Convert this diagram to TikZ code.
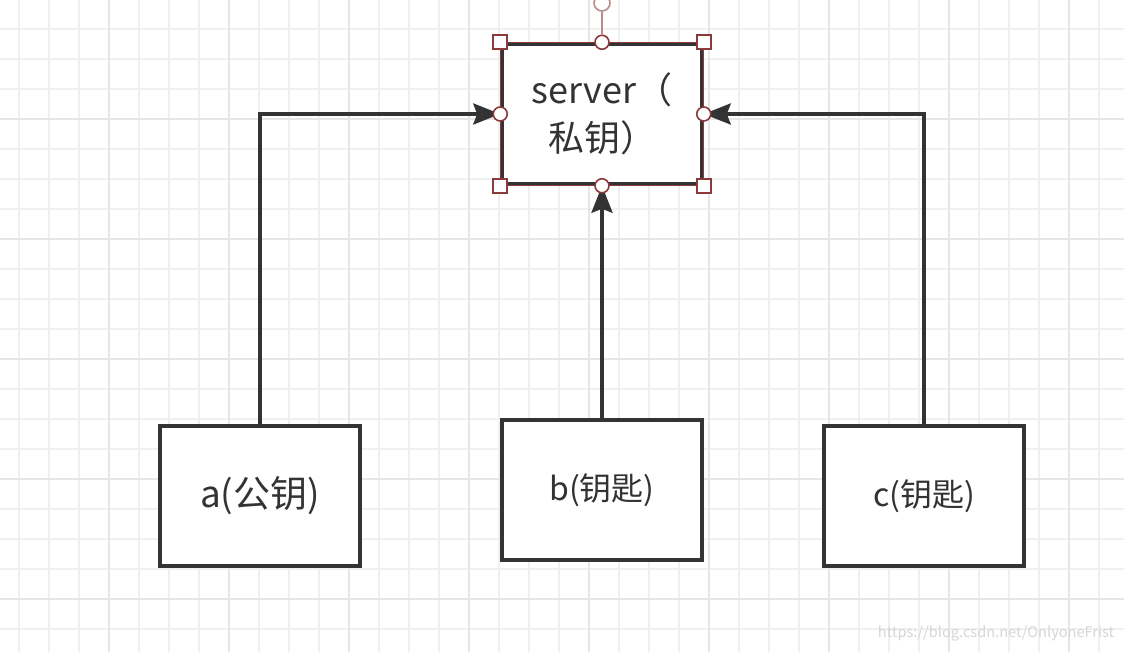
\documentclass[tikz,border=0pt]{standalone}
\usepackage{fontspec}
\setmainfont{Noto Sans CJK SC}
\usetikzlibrary{arrows.meta}
\definecolor{boxc}{HTML}{333333}
\definecolor{hred}{HTML}{8A3A3A}
\definecolor{hlight}{HTML}{B88A8A}
\definecolor{gminor}{HTML}{F0F0F0}
\definecolor{gmajor}{HTML}{E6E6E6}
\definecolor{wmc}{HTML}{D6D6D6}
\tikzset{
  gridminor/.style={draw=gminor, line width=2pt},
  gridmajor/.style={draw=gmajor, line width=2pt},
  box/.style={draw=boxc, line width=3.5pt, fill=white, minimum width=200pt, minimum height=140pt, inner sep=0pt, text=boxc},
  conn/.style={draw=boxc, line width=3.5pt, -{Stealth[length=27pt,width=21pt,inset=4pt]}},
  hsq/.style={rectangle, draw=hred, fill=white, line width=1.6pt, minimum size=14pt, inner sep=0pt},
  hcirc/.style={circle, draw=hred, fill=white, line width=1.6pt, minimum size=14pt, inner sep=0pt},
}
\begin{document}
\begin{tikzpicture}[x=1pt,y=-1pt]
\useasboundingbox (0,0) rectangle (1124,652);
\fill[white] (0,0) rectangle (1124,652);
\foreach \x in {19,49,...,1124} \draw[gridminor] (\x,0) -- (\x,652);
\foreach \y in {29,59,...,652} \draw[gridminor] (0,\y) -- (1124,\y);
\foreach \x in {109,229,...,1124} \draw[gridmajor] (\x,0) -- (\x,652);
\foreach \y in {119,239,...,652} \draw[gridmajor] (0,\y) -- (1124,\y);

\node[box, align=center, font=\fontsize{36}{48}\selectfont] (srv) at (602,114) {server（\\私钥）};
\node[box, font=\fontsize{37}{40}\selectfont] (a) at (260,496) {a(公钥)};
\node[box, font=\fontsize{32}{36}\selectfont] (b) at (602,490) {b(钥匙)};
\node[box, font=\fontsize{32}{36}\selectfont] (c) at (924,496) {c(钥匙)};

\draw[conn] (a.north) |- (srv.west);
\draw[conn] (b.north) -- (srv.south);
\draw[conn] (c.north) |- (srv.east);

\draw[draw=hred, line width=0.8pt] (srv.north west) rectangle (srv.south east);
\node[hsq] (h1) at (srv.north west) {};
\node[hsq] (h2) at (srv.north east) {};
\node[hsq] (h3) at (srv.south west) {};
\node[hsq] (h4) at (srv.south east) {};
\node[hcirc] (h5) at (srv.north) {};
\node[hcirc] (h6) at (srv.south) {};
\node[hcirc] (h7) at (srv.west) {};
\node[hcirc] (h8) at (srv.east) {};
\node[hcirc, draw=hlight, minimum size=16pt] (rot) at (602,3) {};
\draw[draw=hlight, line width=1.6pt] (rot) -- (h5);

\node[text=wmc, font=\fontsize{14.6}{16}\selectfont] (wm) at (996,634) {https://blog.csdn.net/OnlyoneFrist};
\end{tikzpicture}
\end{document}
